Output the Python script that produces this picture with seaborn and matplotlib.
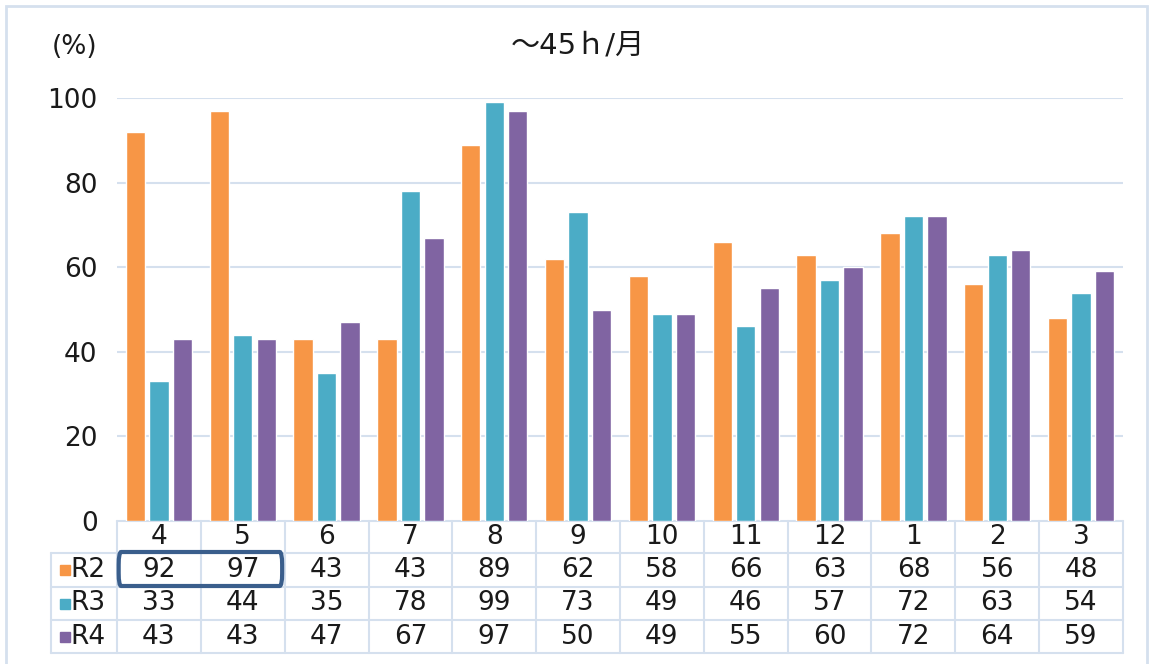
import matplotlib
matplotlib.use("Agg")
import matplotlib.pyplot as plt
from matplotlib.patches import Rectangle, FancyBboxPatch
import seaborn as sns
import pandas as pd

months = ["4", "5", "6", "7", "8", "9", "10", "11", "12", "1", "2", "3"]
series_names = ["R2", "R3", "R4"]
r2 = [92, 97, 43, 43, 89, 62, 58, 66, 63, 68, 56, 48]
r3 = [33, 44, 35, 78, 99, 73, 49, 46, 57, 72, 63, 54]
r4 = [43, 43, 47, 67, 97, 50, 49, 55, 60, 72, 64, 59]
colors = ["#F79646", "#4BACC6", "#8064A2"]
title = "～45ｈ/月"
unit_label = "(%)"

sns.set_theme(style="white")
plt.rcParams["font.family"] = ["DejaVu Sans", "Noto Sans CJK JP"]

values = [r2, r3, r4]
df = pd.DataFrame({
    "month": [m for _ in series_names for m in months],
    "series": [s for s in series_names for _ in months],
    "value": [v for vals in values for v in vals],
})

W, H = 1149, 664
fig = plt.figure(figsize=(W / 100, H / 100), dpi=100)
ax = fig.add_axes([117 / W, 1 - 521 / H, (1123 - 117) / W, (521 - 98) / H])

grid_c = "#D5E0EE"
text_c = "#1A1A1A"
fs = 19

sns.barplot(data=df, x="month", y="value", hue="series", order=months,
            hue_order=series_names, palette=colors, width=0.84, gap=0.18,
            saturation=1, legend=False, ax=ax, zorder=3)

ax.set_xlim(-0.5, len(months) - 0.5)
ax.set_ylim(0, 100)
ax.set_yticks([0, 20, 40, 60, 80, 100])
ax.set_yticklabels(["0", "20", "40", "60", "80", "100"], fontsize=fs, color=text_c)
ax.tick_params(axis="y", length=0, pad=14)
ax.set_xticks([])
ax.set_xlabel("")
ax.set_ylabel("")
for s in ax.spines.values():
    s.set_visible(False)
for yv in [20, 40, 60, 80, 100]:
    ax.axhline(yv, color=grid_c, lw=1.5, zorder=1)

# data table under the axis
trans = ax.get_xaxis_transform()
px = 1 / (521 - 98)
row_edges = [0, -32 * px, -66 * px, -99 * px, -132 * px]
label_left = -0.5 - 66 * len(months) / (1123 - 117)
n = len(months)
lw = 1.5
ax.plot([-0.5, n - 0.5], [0, 0], color=grid_c, lw=lw, transform=trans, clip_on=False)
for yb in row_edges[1:]:
    ax.plot([label_left, n - 0.5], [yb, yb], color=grid_c, lw=lw,
            transform=trans, clip_on=False)
for i in range(n + 1):
    ax.plot([i - 0.5, i - 0.5], [0, row_edges[-1]], color=grid_c, lw=lw,
            transform=trans, clip_on=False)
ax.plot([label_left, label_left], [row_edges[1], row_edges[-1]], color=grid_c,
        lw=lw, transform=trans, clip_on=False)

for i, m in enumerate(months):
    ax.text(i, (row_edges[0] + row_edges[1]) / 2, m, ha="center", va="center",
            fontsize=fs, color=text_c, transform=trans, clip_on=False)
for r, (name, vals, c) in enumerate(zip(series_names, values, colors)):
    yc = (row_edges[r + 1] + row_edges[r + 2]) / 2
    for i, v in enumerate(vals):
        ax.text(i, yc, str(v), ha="center", va="center", fontsize=fs,
                color=text_c, transform=trans, clip_on=False)
    sq_x = label_left + 9 * n / (1123 - 117)
    sq_w = 10 * n / (1123 - 117)
    ax.add_patch(Rectangle((sq_x, yc - 5 * px), sq_w, 10 * px, color=c,
                           transform=trans, clip_on=False))
    ax.text(sq_x + sq_w + 0.01, yc, name, ha="left", va="center", fontsize=fs,
            color=text_c, transform=trans, clip_on=False)

# highlight around the first two R2 cells
ax.add_patch(FancyBboxPatch((-0.48, row_edges[2] + 1 * px), 1.95,
                            (row_edges[1] - row_edges[2]) + 0 * px,
                            boxstyle="round,pad=0,rounding_size=0.03",
                            fill=False, ec="#3A5E8C", lw=3,
                            transform=trans, clip_on=False, zorder=5))

fig.text(578 / W, 1 - 45 / H, title, ha="center", va="center", fontsize=21,
         color=text_c)
fig.text(75 / W, 1 - 47 / H, unit_label, ha="center", va="center", fontsize=fs,
         color=text_c)

fig.patches.append(Rectangle((6 / W, -0.02), (1147 - 6) / W, 1 - 6 / H + 0.02,
                             fill=False, ec=grid_c, lw=2,
                             transform=fig.transFigure, figure=fig))

fig.savefig("out.png", dpi=100)
